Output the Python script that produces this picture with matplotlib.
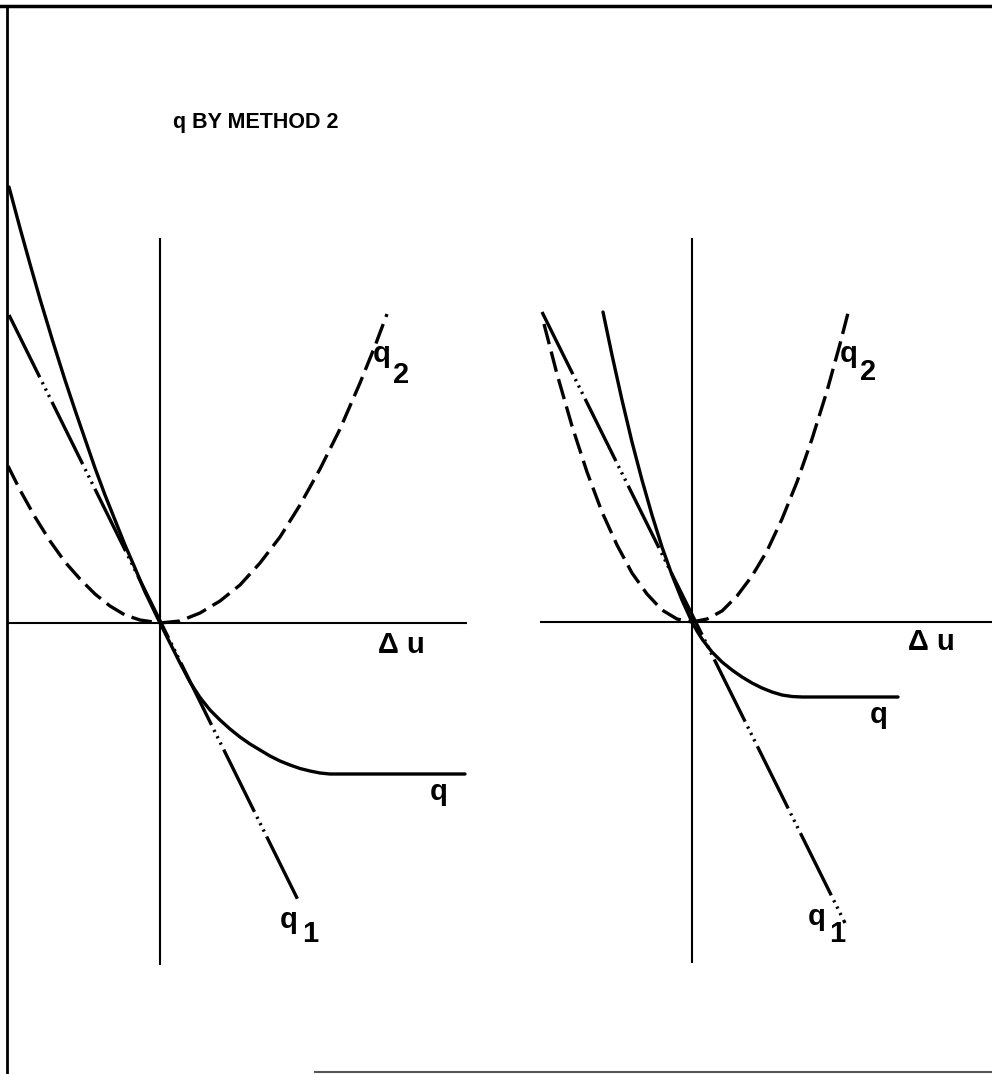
import numpy as np
import matplotlib
matplotlib.use("Agg")
import matplotlib.pyplot as plt
from matplotlib.lines import Line2D

# ===================
# Datos (unidades arbitrarias, origen en el cruce de ejes)
# ===================

# Panel izquierdo
q2_left_x = [-1.52, -1.4, -1.25, -1.1, -0.95, -0.8, -0.65, -0.5, -0.35, -0.2, 0.0,
             0.2, 0.4, 0.6, 0.8, 1.0, 1.2, 1.4, 1.6, 1.8, 2.0, 2.15, 2.27]
q2_left_y = [1.57, 1.33, 1.06, 0.82, 0.61, 0.44, 0.29, 0.17, 0.08, 0.03, 0.0,
             0.02, 0.10, 0.22, 0.38, 0.60, 0.86, 1.18, 1.54, 1.94, 2.40, 2.77, 3.09]

q1_left_x = [-1.51, 1.38]
q1_left_y = [3.08, -2.77]

q_left_x = [-1.51, -1.4, -1.3, -1.2, -1.07, -0.95, -0.85, -0.75, -0.65, -0.55, -0.45,
            -0.35, -0.25, -0.15, 0.0, 0.10, 0.20, 0.30, 0.40, 0.50, 0.60, 0.70, 0.80,
            0.90, 1.00, 1.10, 1.20, 1.30, 1.40, 1.50, 1.60, 1.70, 3.05]
q_left_y = [4.36, 3.95, 3.59, 3.24, 2.81, 2.43, 2.13, 1.84, 1.55, 1.28, 1.03,
            0.78, 0.55, 0.31, 0.0, -0.20, -0.40, -0.59, -0.745, -0.87, -0.97, -1.06, -1.14,
            -1.21, -1.27, -1.33, -1.38, -1.42, -1.455, -1.48, -1.50, -1.51, -1.51]

# Panel derecho
q2_right_x = [-1.48, -1.35, -1.2, -1.05, -0.9, -0.75, -0.6, -0.45, -0.3, -0.15, 0.0,
              0.15, 0.3, 0.45, 0.6, 0.75, 0.9, 1.05, 1.2, 1.35, 1.48, 1.56]
q2_right_y = [2.98, 2.48, 1.96, 1.50, 1.10, 0.77, 0.49, 0.28, 0.12, 0.03, 0.0,
              0.03, 0.11, 0.26, 0.46, 0.71, 1.03, 1.40, 1.83, 2.31, 2.78, 3.09]

q1_right_x = [-1.50, 1.53]
q1_right_y = [3.10, -3.01]

q_right_x = [-0.89, -0.80, -0.70, -0.60, -0.50, -0.40, -0.30, -0.20, -0.10, 0.0,
             0.05, 0.10, 0.20, 0.30, 0.40, 0.50, 0.60, 0.70, 0.80, 0.90, 1.00, 1.10, 2.06]
q_right_y = [3.10, 2.67, 2.22, 1.80, 1.42, 1.07, 0.75, 0.47, 0.22, 0.0,
             -0.09, -0.17, -0.30, -0.40, -0.48, -0.55, -0.61, -0.66, -0.70, -0.73, -0.745, -0.75, -0.75]

# Extensión de los ejes dibujados
xaxis_left = [-1.52, 3.07]
yaxis_left = [-3.42, 3.85]
xaxis_right = [-1.52, 3.05]
yaxis_right = [-3.41, 3.84]

TITLE = "q BY METHOD 2"

# ===================
# Figura
# ===================

W, H = 992, 1074
fig = plt.figure(figsize=(W / 100, H / 100), dpi=100)
plt.rcParams["lines.scale_dashes"] = False

FONT = "Liberation Sans"
LW = 2.4
AX_LW = 1.5
DASH_Q2 = (0, (15, 5.5))
DASH_Q1 = (0, (50, 4, 1.6, 3.5, 1.6, 3.5, 1.6, 4))

# ejes en pixeles: origen izq (160, 623), der (692, 622); 100 px por unidad
YLIM = (-3.6, 4.5)


def make_axes(x0_px, y0_px, xlim):
    left = x0_px + xlim[0] * 100
    width = (xlim[1] - xlim[0]) * 100
    bottom = H - (y0_px - YLIM[0] * 100)
    height = (YLIM[1] - YLIM[0]) * 100
    ax = fig.add_axes([left / W, bottom / H, width / W, height / H])
    ax.set_xlim(*xlim)
    ax.set_ylim(*YLIM)
    ax.axis("off")
    return ax


def draw_panel(ax, xa, ya, q2x, q2y, q1x, q1y, qx, qy):
    ax.plot(xa, [0, 0], color="black", lw=AX_LW, solid_capstyle="butt")
    ax.plot([0, 0], ya, color="black", lw=AX_LW, solid_capstyle="butt")
    ax.plot(q2x, q2y, color="black", lw=LW, linestyle=DASH_Q2, dash_capstyle="butt")
    ax.plot(q1x, q1y, color="black", lw=LW, linestyle=DASH_Q1, dash_capstyle="butt")
    ax.plot(qx, qy, color="black", lw=LW, solid_joinstyle="round", solid_capstyle="round")


def label(ax, x, y, s, size=21):
    ax.text(x, y, s, family=FONT, fontweight="bold", fontsize=size,
            ha="left", va="baseline", clip_on=False)


axL = make_axes(160, 623, (-1.55, 3.2))
draw_panel(axL, xaxis_left, yaxis_left, q2_left_x, q2_left_y,
           q1_left_x, q1_left_y, q_left_x, q_left_y)
label(axL, 2.13, 2.61, "q")
label(axL, 2.33, 2.40, "2")
label(axL, 2.18, -0.30, "\u0394 u")
label(axL, 2.70, -1.77, "q")
label(axL, 1.20, -3.05, "q")
label(axL, 1.42, -3.19, "1")

axR = make_axes(692, 622, (-1.55, 3.0))
draw_panel(axR, xaxis_right, yaxis_right, q2_right_x, q2_right_y,
           q1_right_x, q1_right_y, q_right_x, q_right_y)
label(axR, 1.48, 2.60, "q")
label(axR, 1.68, 2.42, "2")
label(axR, 2.16, -0.28, "\u0394 u")
label(axR, 1.78, -1.01, "q")
label(axR, 1.16, -3.03, "q")
label(axR, 1.37, -3.20, "1")

fig.text(173 / W, 1 - 128 / H, TITLE, family=FONT, fontweight="bold",
         fontsize=15.5, ha="left", va="baseline")

# Marco de la lámina
fig.add_artist(Line2D([0, 1], [1 - 6 / H, 1 - 6 / H], transform=fig.transFigure,
                      color="black", lw=2.5))
fig.add_artist(Line2D([6.5 / W, 6.5 / W], [0, 1 - 6 / H], transform=fig.transFigure,
                      color="black", lw=2.0))
fig.add_artist(Line2D([315 / W, 1], [2.5 / H, 2.5 / H], transform=fig.transFigure,
                      color="#555555", lw=1.5))

fig.savefig("out.png", dpi=100, facecolor="white")
